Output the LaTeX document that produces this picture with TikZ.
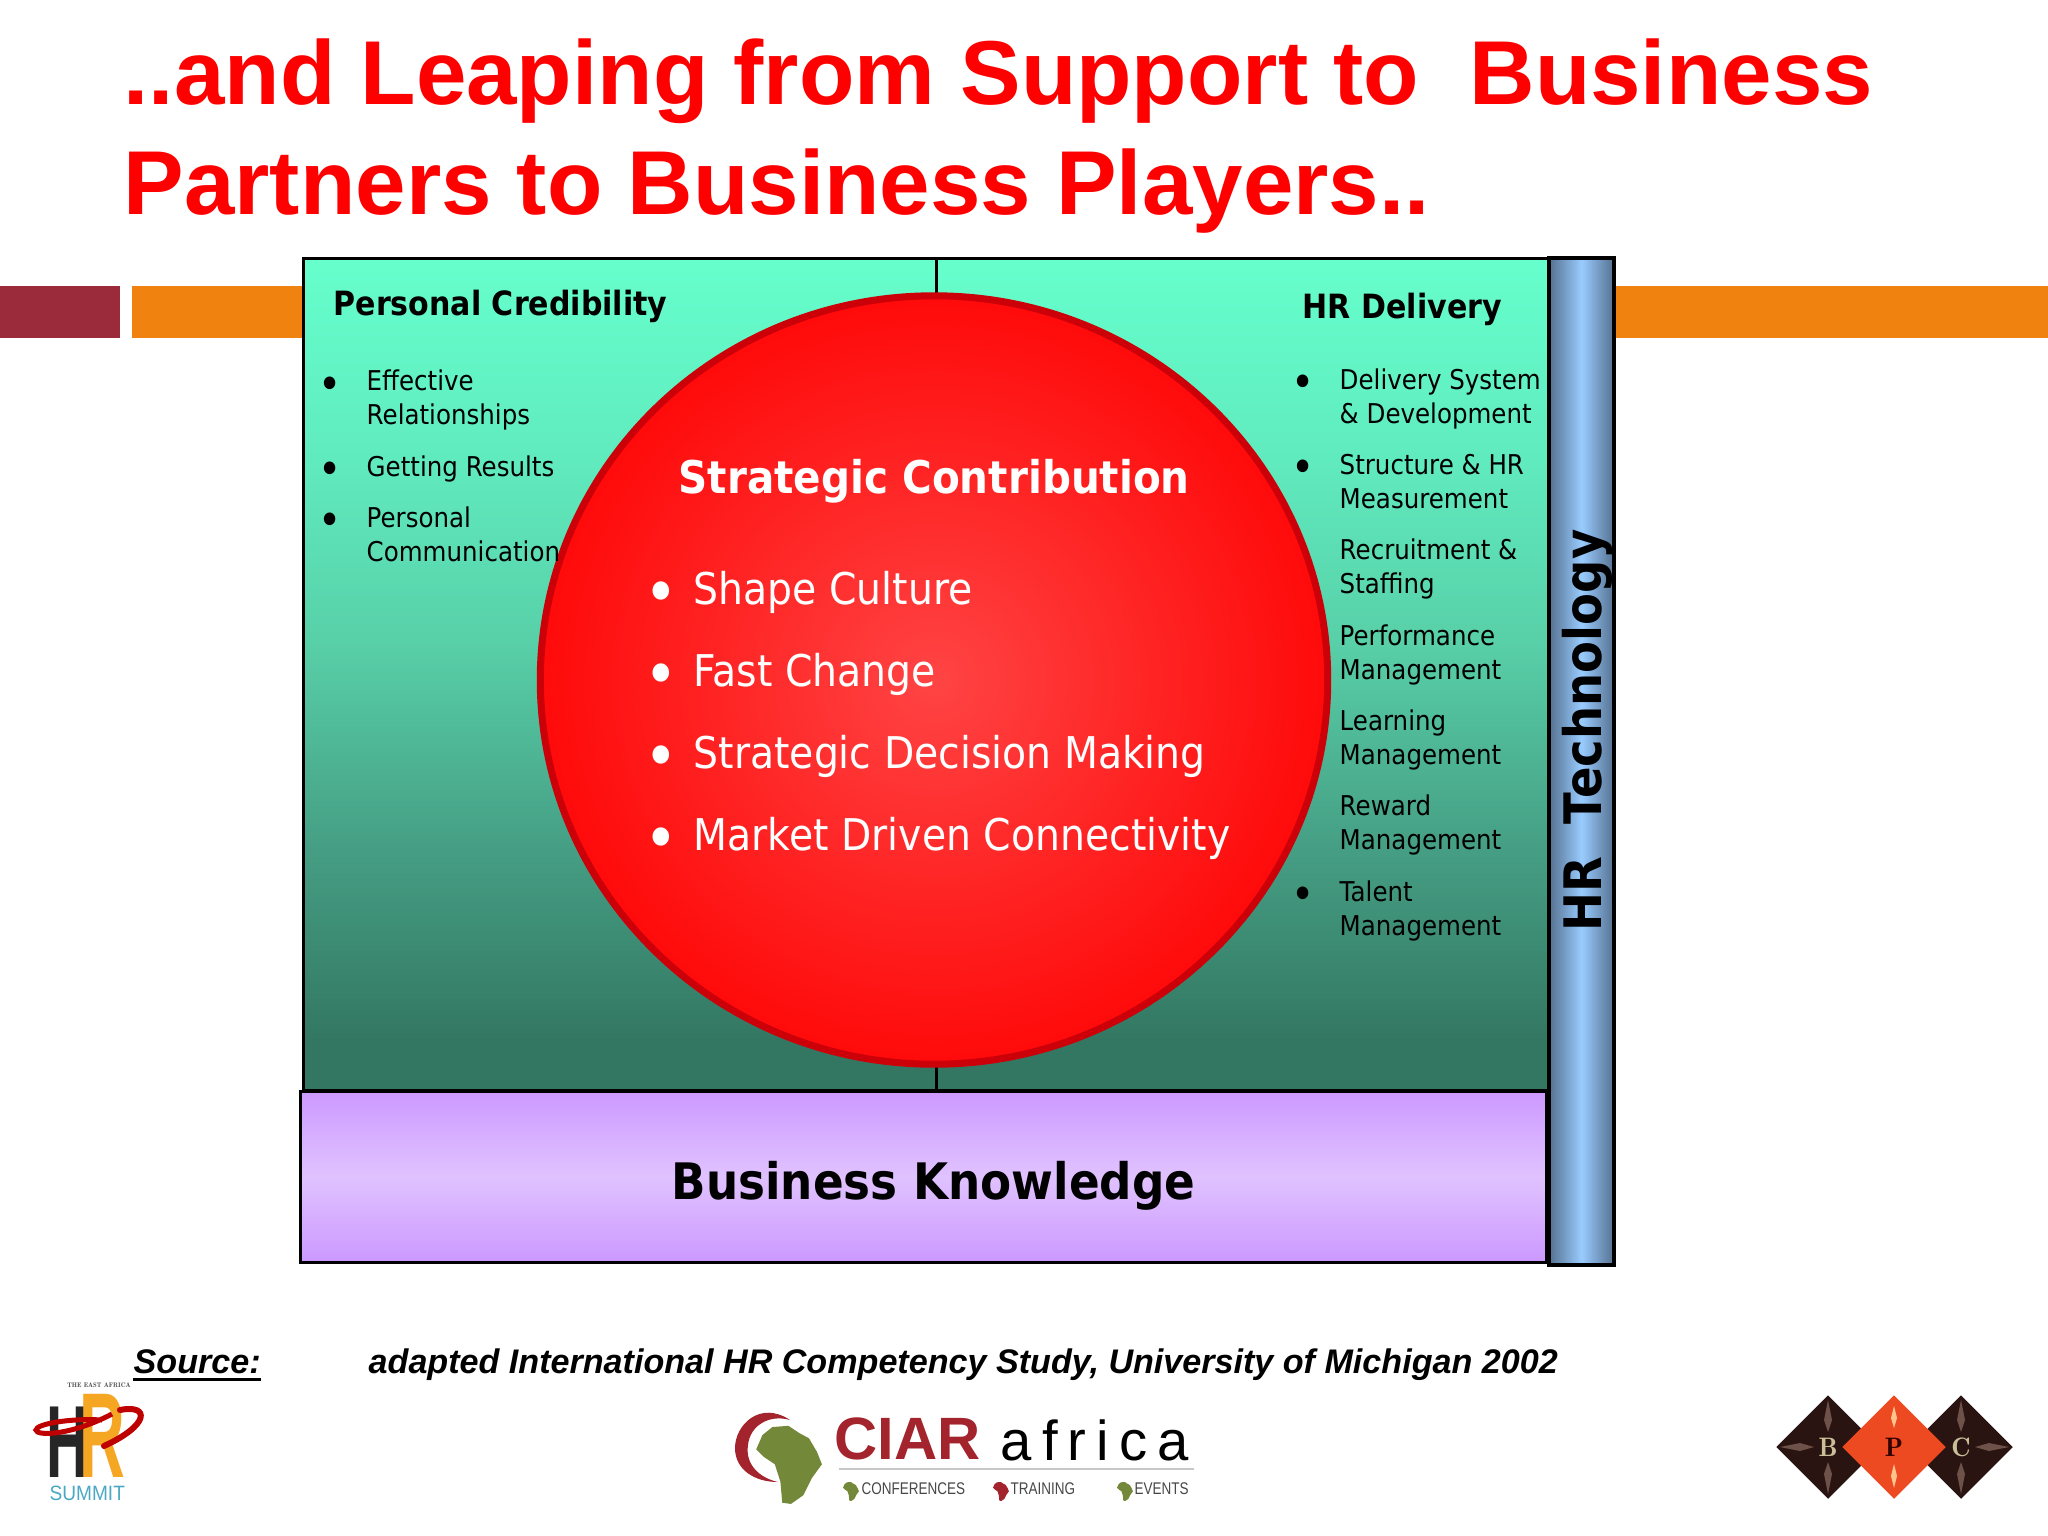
\documentclass[tikz,border=0pt]{standalone}
\usepackage{fontspec}
\usetikzlibrary{shapes.geometric}
\setmainfont{Liberation Sans}
\newfontfamily\bodyfont[FakeStretch=0.9]{DejaVu Sans}
\newfontfamily\spacedfont[LetterSpace=18]{Liberation Sans}
\definecolor{titlered}{HTML}{FF0000}
\definecolor{barred}{HTML}{9B2A3A}
\definecolor{barorange}{HTML}{F0820F}
\definecolor{ciarred}{HTML}{A3242C}
\definecolor{africagreen}{HTML}{74883A}
\definecolor{bpcdark}{HTML}{2A1411}
\definecolor{bpcglint}{HTML}{6E5148}
\definecolor{bpcorange}{HTML}{EE4A22}
\definecolor{bpcflash}{HTML}{FFC48E}
\definecolor{bpcpale}{HTML}{C9C09A}
\definecolor{tealA}{HTML}{337762}
\definecolor{tealB}{HTML}{46A085}
\definecolor{tealC}{HTML}{58D0A8}
\definecolor{tealD}{HTML}{60EBBE}
\definecolor{tealE}{HTML}{66FFCC}
\definecolor{purpleedge}{HTML}{CC99FF}
\definecolor{purplemid}{HTML}{E0C2FF}
\definecolor{blueedge}{HTML}{55708F}
\definecolor{bluemid}{HTML}{99CCFF}
\definecolor{coreedge}{HTML}{CC0008}
\definecolor{coreinner}{HTML}{FF4444}
\definecolor{coreouter}{HTML}{FF0A0A}
\definecolor{hrorange}{HTML}{F5A623}
\definecolor{summitblue}{HTML}{4AA8C4}
\pgfdeclareverticalshading{tealfade}{100bp}{
  color(0bp)=(tealA); color(28bp)=(tealA); color(40bp)=(tealB);
  color(52bp)=(tealC); color(63bp)=(tealD); color(75bp)=(tealE); color(100bp)=(tealE)}
\newcommand{\africapath}{(-30,-45) -- (-14,-58) -- (12,-60) -- (30,-48) -- (45,-40) -- (58,-18) -- (66,2)
  -- (50,24) -- (36,52) -- (16,66) -- (2,64) -- (-1,30) -- (-10,2) -- (-28,-10) -- (-40,-22) -- cycle}
\tikzset{
  titletext/.style={font=\fontsize{25.8}{30}\selectfont\bfseries,text=titlered,anchor=base west,inner sep=0},
  headtext/.style={font=\bodyfont\fontsize{9.5}{11}\selectfont\bfseries,anchor=base west,inner sep=0},
  listtext/.style={font=\bodyfont\fontsize{7.75}{9.67}\selectfont,anchor=base west,inner sep=0,align=left},
  listdot/.style={font=\bodyfont\fontsize{12.4}{14}\selectfont,anchor=base,inner sep=0},
  circlehead/.style={font=\bodyfont\fontsize{12.8}{15}\selectfont\bfseries,text=white,anchor=base west,inner sep=0},
  circletext/.style={font=\bodyfont\fontsize{12.43}{15}\selectfont,text=white,anchor=base west,inner sep=0},
  circledot/.style={font=\bodyfont\fontsize{18}{20}\selectfont,text=white,anchor=base,inner sep=0},
  sourcetext/.style={font=\fontsize{9.7}{12}\selectfont\bfseries\itshape,anchor=base west,inner sep=0},
  smalltext/.style={font=\fontsize{4.8}{6}\selectfont,xscale=0.8,text=black!72,anchor=base west,inner sep=0},
  gem/.style={diamond,inner sep=0,minimum width=1.04cm,minimum height=1.04cm,font=\fontfamily{lmr}\fontsize{7.6}{8}\selectfont\bfseries}
}
\begin{document}
\begin{tikzpicture}[x=0.01cm,y=-0.01cm]
  \useasboundingbox (0,0) rectangle (2048,1536);
  \fill[barred] (0,286) rectangle (120,338);
  \fill[barorange] (132,286) rectangle (304,338);
  \fill[barorange] (1612,286) rectangle (2048,338);
  \draw[line width=0.03cm,shading=tealfade] (303,258) rectangle (1548,1090);
  \coordinate (linetop) at (936,258);
  \coordinate (linebottom) at (936,1090);
  \draw[line width=0.03cm] (linetop) -- (linebottom);
  \node[ellipse,minimum width=7.87cm,minimum height=7.68cm,inner sep=0,draw=coreedge,line width=0.07cm,
    inner color=coreinner,outer color=coreouter] (core) at (934,680) {};
  \draw[line width=0.03cm,top color=purpleedge,bottom color=purpleedge,middle color=purplemid]
    (300,1091) rectangle (1546,1262);
  \draw[line width=0.04cm,left color=blueedge,right color=blueedge,middle color=bluemid]
    (1549,258) rectangle (1614,1265);

  \node[titletext] (title1) at (123,104) {..and Leaping from Support to\ \ Business};
  \node[titletext] (title2) at (123,214) {Partners to Business Players..};

  \node[headtext] (credit) at (333,315) {Personal Credibility};
  \node[listdot] (dot1) at (330,399) {•};
  \node[listtext] (item1) at (366,424) {Effective\\Relationships};
  \node[listdot] (dot2) at (330,484) {•};
  \node[listtext] (item2) at (366,476) {Getting Results};
  \node[listdot] (dot3) at (330,535) {•};
  \node[listtext] (item3) at (366,561) {Personal\\Communication};

  \node[headtext] (delivery) at (1302,318) {HR Delivery};
  \node[listdot] (dot4) at (1303,397) {•};
  \node[listtext] (item4) at (1339,423) {Delivery System\\\& Development};
  \node[listdot] (dot5) at (1303,482) {•};
  \node[listtext] (item5) at (1339,508) {Structure \& HR\\Measurement};
  \node[listtext] (item6) at (1339,593) {Recruitment \&\\Staffing};
  \node[listtext] (item7) at (1339,679) {Performance\\Management};
  \node[listtext] (item8) at (1339,764) {Learning\\Management};
  \node[listtext] (item9) at (1339,849) {Reward\\Management};
  \node[listdot] (dot6) at (1303,909) {•};
  \node[listtext] (item10) at (1339,935) {Talent\\Management};

  \node[circlehead] (strategic) at (678,493) {Strategic Contribution};
  \node[circledot] (cdot1) at (661,614) {•};
  \node[circletext] (ctext1) at (693,604) {Shape Culture};
  \node[circledot] (cdot2) at (661,696) {•};
  \node[circletext] (ctext2) at (693,686) {Fast Change};
  \node[circledot] (cdot3) at (661,778) {•};
  \node[circletext] (ctext3) at (693,768) {Strategic Decision Making};
  \node[circledot] (cdot4) at (661,860) {•};
  \node[circletext] (ctext4) at (693,850) {Market Driven Connectivity};

  \node[font=\bodyfont\fontsize{14.3}{17}\selectfont\bfseries,anchor=base west,inner sep=0] (business) at (671,1199) {Business Knowledge};
  \node[font=\bodyfont\fontsize{14.7}{17}\selectfont\bfseries,anchor=base west,inner sep=0,rotate=90] (tech) at (1601,932) {HR\ \ Technology};

  \node[sourcetext] (source) at (133,1373) {Source:};
  \draw[line width=0.03cm] ([yshift=-0.06cm]source.base west) -- ([yshift=-0.06cm]source.base east);
  \node[sourcetext] (study) at (368,1373) {adapted International HR Competency Study, University of Michigan 2002};

  \node[font=\fontfamily{lmr}\fontsize{1.9}{3}\selectfont\bfseries,text=black!70,inner sep=0] (east) at (99,1385) {THE EAST AFRICA};
  \node[font=\fontsize{18}{20}\selectfont\bfseries,xscale=0.92,yscale=1.62,anchor=base west,inner sep=0,text=black!85] (hmark) at (46,1477) {H};
  \node[font=\fontsize{20}{20}\selectfont\bfseries,xscale=0.9,yscale=1.72,anchor=base west,inner sep=0,text=hrorange] (rmark) at (79,1477) {R};
  \draw[line width=0.05cm,red!75!black] (102,1420) .. controls (70,1418) and (36,1424) .. (36,1430)
    .. controls (36,1436) and (70,1436) .. (112,1414);
  \draw[line width=0.06cm,red!75!black,line cap=round] (120,1410) .. controls (150,1404) and (150,1425) .. (104,1446);
  \node[font=\fontsize{5.9}{7}\selectfont,xscale=0.92,text=summitblue,anchor=base west,inner sep=0] (summit) at (49,1500) {SUMMIT};

  \fill[ciarred] (790,1420) .. controls (760,1400) and (735,1425) .. (735,1448)
    .. controls (735,1470) and (755,1482) .. (778,1482)
    .. controls (760,1478) and (745,1465) .. (748,1445)
    .. controls (750,1425) and (770,1414) .. (790,1420);
  \begin{scope}[shift={(781,1463)},scale=0.62]
    \fill[africagreen] \africapath;
  \end{scope}
  \node[font=\fontsize{17}{18}\selectfont\bfseries,text=ciarred,anchor=base west,inner sep=0] (ciar) at (834,1459) {CIAR};
  \node[font=\spacedfont\fontsize{16}{18}\selectfont,anchor=base west,inner sep=0] (africa) at (1000,1460) {africa};
  \coordinate (rulestart) at (839,1469);
  \coordinate (ruleend) at (1194,1469);
  \draw[line width=0.015cm,black!22] (rulestart) -- (ruleend);
  \begin{scope}[shift={(849,1491)},scale=0.15]
    \fill[africagreen] \africapath;
  \end{scope}
  \begin{scope}[shift={(999,1491)},scale=0.15]
    \fill[ciarred] \africapath;
  \end{scope}
  \begin{scope}[shift={(1123,1491)},scale=0.15]
    \fill[africagreen] \africapath;
  \end{scope}
  \node[smalltext] (conf) at (861,1494) {CONFERENCES};
  \node[smalltext] (train) at (1010,1494) {TRAINING};
  \node[smalltext] (events) at (1134,1494) {EVENTS};

  \node[gem,fill=bpcdark,text=bpcpale] (gemb) at (1828,1447) {B};
  \node[gem,fill=bpcdark,text=bpcpale] (gemc) at (1961,1447) {C};
  \foreach \cx in {1828,1961} {
    \fill[bpcglint] (\cx,1400) -- (\cx+4,1420) -- (\cx,1432) -- (\cx-4,1420) -- cycle;
    \fill[bpcglint] (\cx,1494) -- (\cx+4,1474) -- (\cx,1462) -- (\cx-4,1474) -- cycle;
  }
  \fill[bpcglint] (1780,1447) -- (1800,1443) -- (1814,1447) -- (1800,1451) -- cycle;
  \fill[bpcglint] (2009,1447) -- (1989,1443) -- (1975,1447) -- (1989,1451) -- cycle;
  \node[gem,fill=bpcorange,text=black!80!red] (gemp) at (1894,1447) {P};
  \fill[bpcflash] (1894,1406) -- (1897,1418) -- (1894,1428) -- (1891,1418) -- cycle;
  \fill[bpcflash] (1894,1464) -- (1897,1476) -- (1894,1488) -- (1891,1476) -- cycle;
\end{tikzpicture}
\end{document}
